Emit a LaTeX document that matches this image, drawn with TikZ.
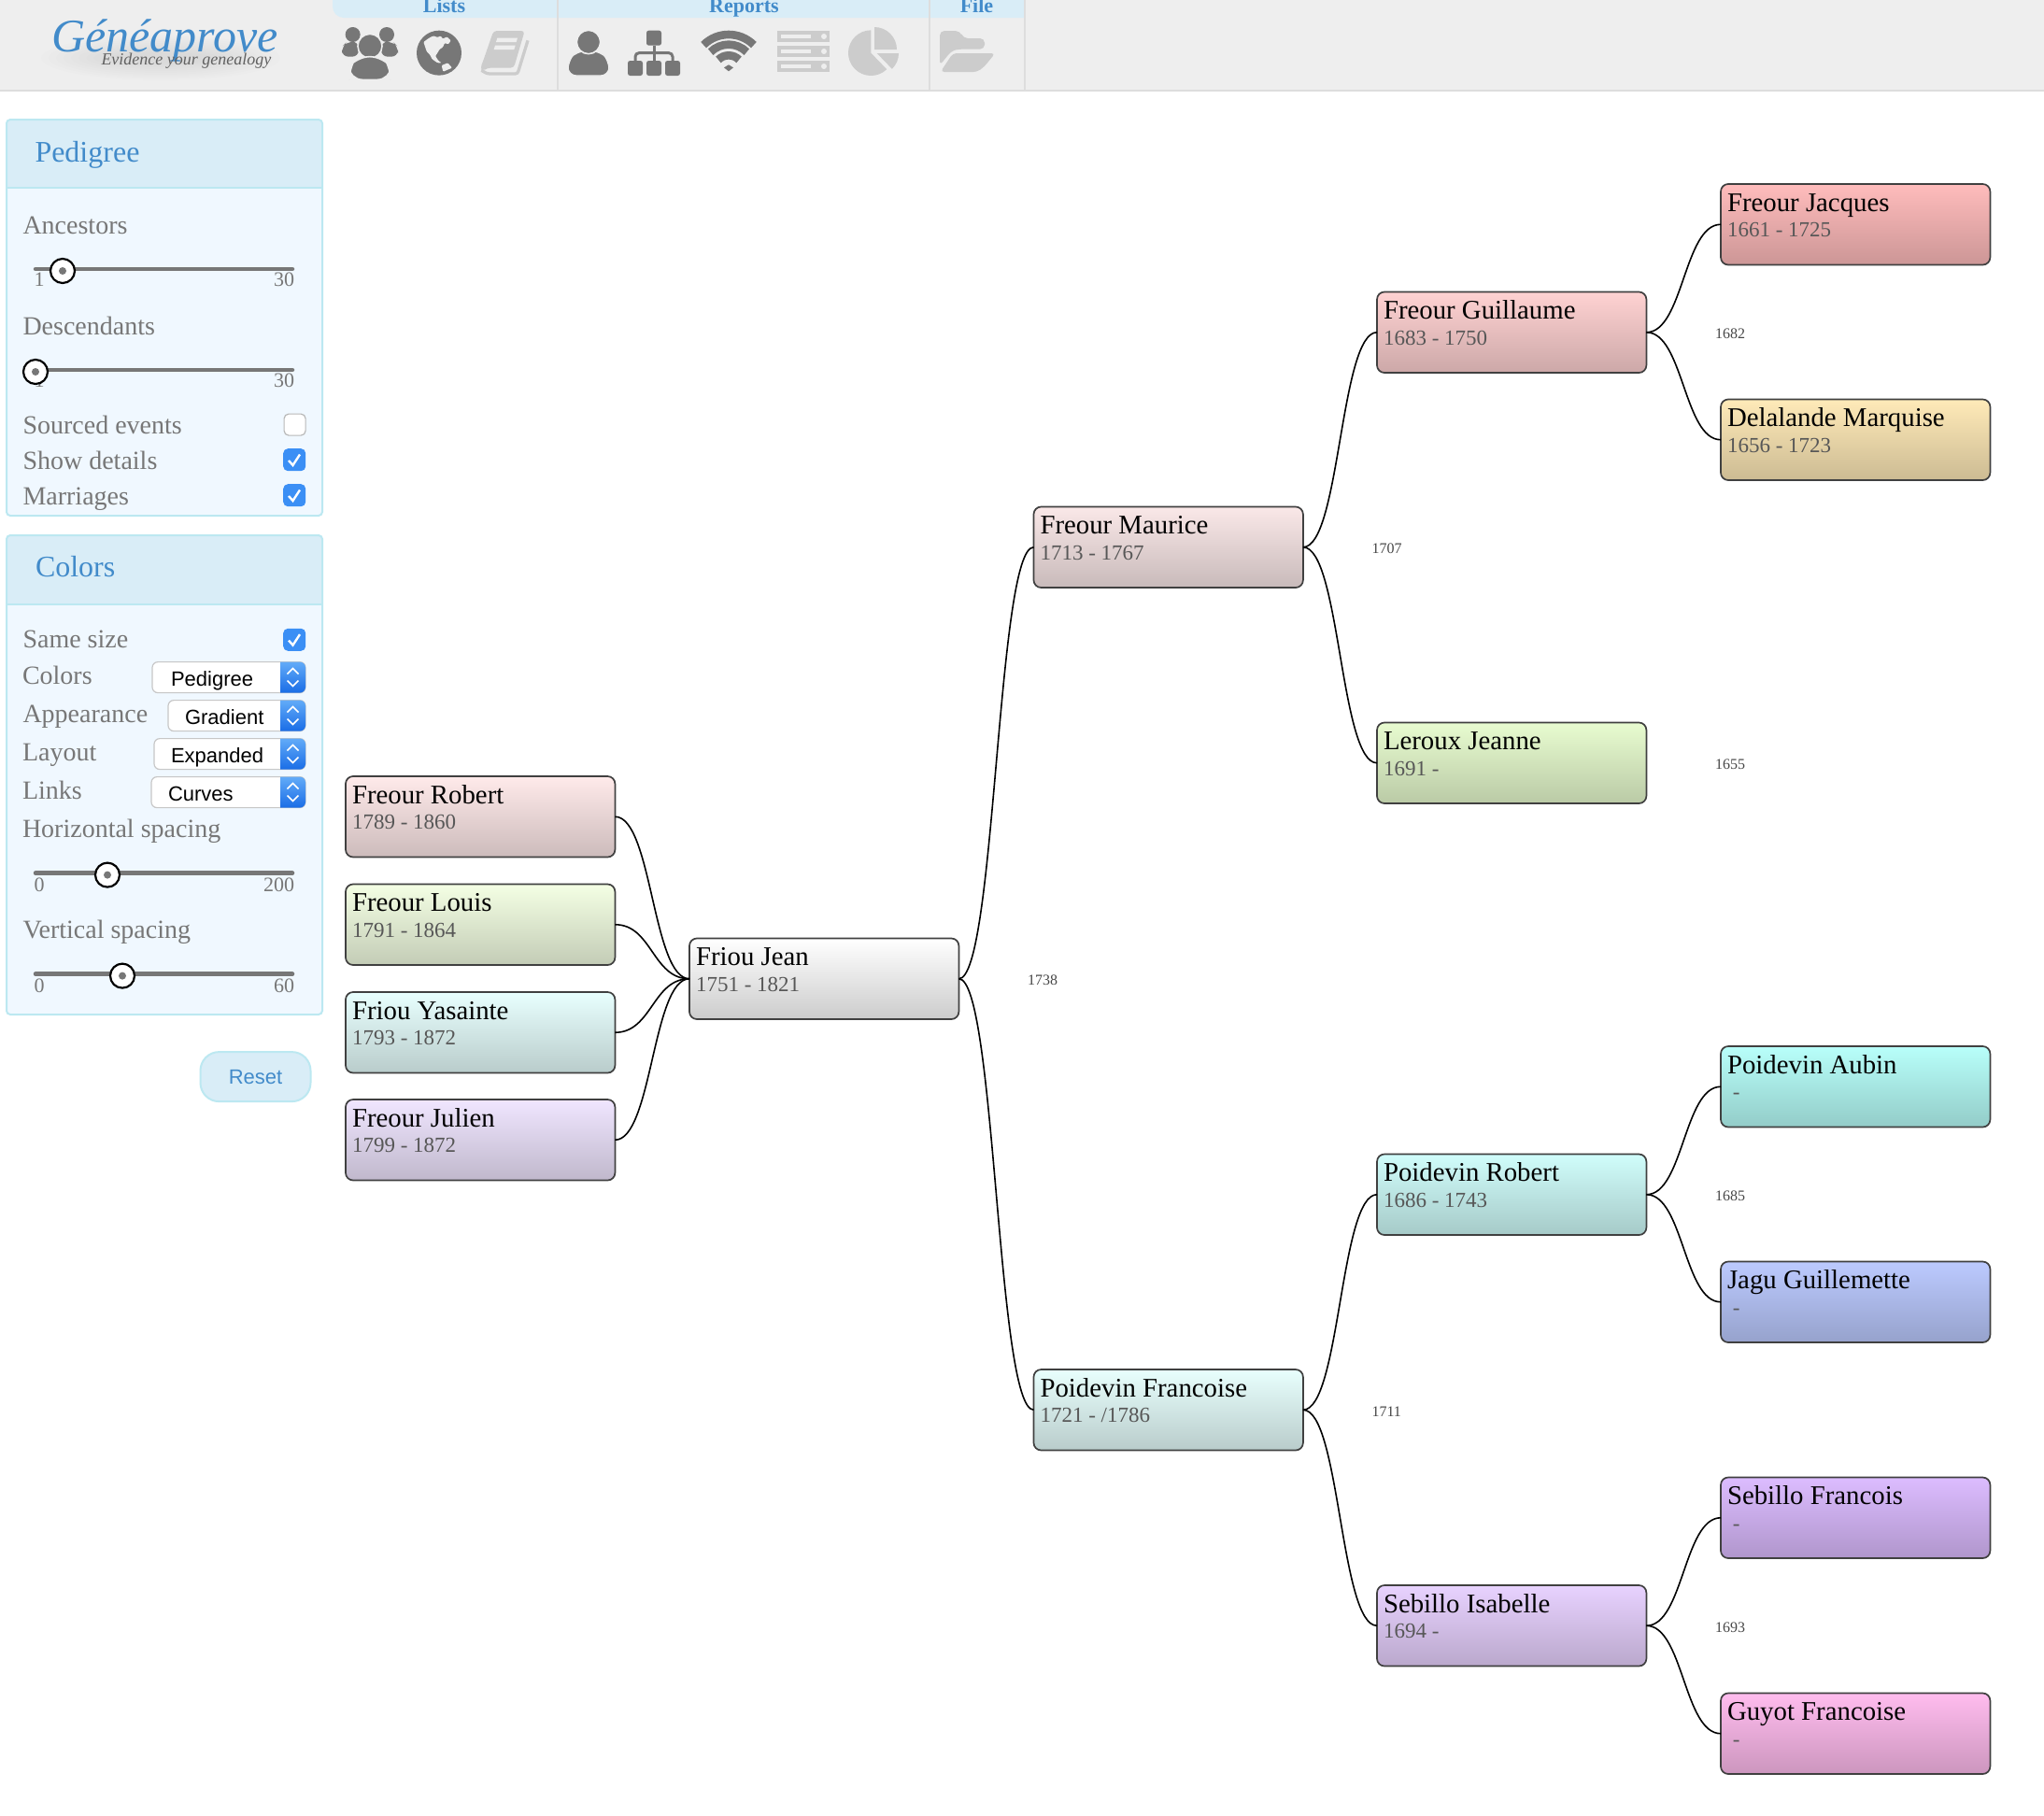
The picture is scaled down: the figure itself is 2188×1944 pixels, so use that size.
\documentclass[tikz,border=0pt]{standalone}
\usepackage{fontspec}
\setmainfont{Liberation Serif}
\setsansfont{Liberation Sans}
\usetikzlibrary{calc}
\definecolor{barbg}{HTML}{EEEEEE}
\definecolor{barline}{HTML}{DDDDDD}
\definecolor{tabbg}{HTML}{D9EDF7}
\definecolor{panelline}{HTML}{BCE8F1}
\definecolor{panelbg}{HTML}{F0F8FF}
\definecolor{linkblue}{HTML}{428BCA}
\definecolor{txtgrey}{HTML}{777777}
\definecolor{icondark}{HTML}{777777}
\definecolor{iconlight}{HTML}{CCCCCC}
\definecolor{checkblue}{HTML}{3B8FF5}
\definecolor{selecttop}{HTML}{62ABF8}
\definecolor{selectbot}{HTML}{1A6DE6}
\newcommand{\fsz}[1]{\fontsize{#1pt}{#1pt}\selectfont}
\tikzset{
  x=1pt,y=-1pt,
  txt/.style={inner sep=0pt,outer sep=0pt,anchor=base west},
  txtr/.style={inner sep=0pt,outer sep=0pt,anchor=base east},
  personbox/.style={rectangle,draw=black!75,line width=1.7pt,rounded corners=8pt,minimum width=288.4pt,minimum height=86.5pt,inner sep=0pt,outer sep=0pt,anchor=north west},
  namelabel/.style={txt,font=\fsz{28.8},text=black},
  datelabel/.style={txt,font=\fsz{23},text=black!66},
  marrlabel/.style={txt,font=\fsz{16},text=black!72},
  link/.style={draw=black,line width=1.6pt},
  paneltitle/.style={txt,font=\fsz{32},text=linkblue},
  fieldlabel/.style={txt,font=\fsz{28},text=txtgrey},
  ticklabel/.style={font=\fsz{22},text=txtgrey},
  tablabel/.style={inner sep=0pt,outer sep=0pt,anchor=base,font=\bfseries\fsz{22},text=linkblue},
  selecttext/.style={txt,font=\sffamily\fsz{22},text=black},
  sliderline/.style={draw=txtgrey,line width=4.5pt,line cap=round},
  knob/.style={circle,draw=black,fill=white,line width=2.2pt,minimum size=26pt,inner sep=0pt},
  panelframe/.style={draw=panelline,line width=2pt,rounded corners=4pt},
}
\newcommand{\person}[7]{%
  \definecolor{#1t}{HTML}{#4}\definecolor{#1b}{HTML}{#5}%
  \node[personbox,top color=#1t,bottom color=#1b] (#1) at (#2,#3) {};
  \node[namelabel] (#1name) at ($(#1.north west)+(7,29)$) {#6};
  \node[datelabel] (#1date) at ($(#1.north west)+(7,56.5)$) {#7};
}
\newcommand{\family}[2]{\draw[link] (#1.east) .. controls ($(#1.east)+(39.5,0)$) and ($(#2.west)-(39.5,0)$) .. (#2.west);}
\newcommand{\marriage}[3]{\node[marrlabel] (#1) at ($(#2.east)+(73.6,7)$) {#3};}
\newcommand{\slider}[6]{%
  \node[ticklabel,txt] (#1min) at (36.5,#2+#6) {#4};
  \node[ticklabel,txtr] (#1max) at (315,#2+#6) {#5};
  \coordinate (#1a) at (38,#2); \coordinate (#1b) at (313,#2);
  \draw[sliderline] (#1a) -- (#1b);
  \node[knob] (#1knob) at (#3,#2+2) {};
  \fill[txtgrey] (#1knob.center) circle (4);
}
\newcommand{\cbon}[2]{%
  \node[rectangle,fill=checkblue,rounded corners=5pt,minimum size=24pt,inner sep=0pt,anchor=north west] (#1) at (303,#2) {};
  \draw[white,line width=2.4pt] ($(#1.north west)+(6,13)$) -- ($(#1.north west)+(10.5,18)$) -- ($(#1.north west)+(18,6.5)$);
}
\newcommand{\cboff}[2]{%
  \node[rectangle,fill=white,draw=black!28,line width=1.2pt,rounded corners=5pt,minimum size=23pt,inner sep=0pt,anchor=north west] (#1) at (303.5,#2.5) {};
}
\newcommand{\selectbox}[5]{%
  \path[draw=black!22,fill=white,line width=1.2pt,rounded corners=6pt] (#2,#3) rectangle (327,#3+33);
  \shade[top color=selecttop,bottom color=selectbot] (300,#3) [rounded corners=6pt] -- (327,#3) -- (327,#3+33) [sharp corners] -- (300,#3+33) -- cycle;
  \draw[white,line width=1.6pt] (307.5,#3+13) -- (313.5,#3+7) -- (319.5,#3+13);
  \draw[white,line width=1.6pt] (307.5,#3+20) -- (313.5,#3+26) -- (319.5,#3+20);
  \node[selecttext] (#1) at (#4,#3+26) {#5};
}
\begin{document}
\begin{tikzpicture}
\useasboundingbox (0,0) rectangle (2188,1944);
\fill[white] (0,0) rectangle (2188,1944);

%%% top bar
\fill[barbg] (0,0) rectangle (2188,96);
\fill[barline] (0,96) rectangle (2188,98);
\fill[tabbg] (356,-10) [rounded corners=12pt] -- (356,19) [sharp corners] -- (1097,19) -- (1097,-10) -- cycle;
\foreach \dx in {597,995,1097} \draw[barline,line width=1.6pt] (\dx,0) -- (\dx,96);
\node[tablabel] (tablists) at (475.5,13) {Lists};
\node[tablabel] (tabreports) at (796.5,13) {Reports};
\node[tablabel] (tabfile) at (1045.5,13) {File};

% logo shadow
\foreach \k in {0,...,9}
  \fill[black,opacity=0.006] (172,62) ellipse ({128-8*\k} and {24-2*\k});
\node[txt,font=\itshape\fsz{50},text=linkblue] (logo) at (55,55) {Généaprove};
\node[txt,font=\itshape\fsz{18},text=black!62] (tagline) at (108.5,69.5) {Evidence your genealogy};

% icons group 1
\begin{scope}[shift={(340,10)},x=0.33333pt,y=-0.33333pt]
  % people
  \fill[icondark,rounded corners=7pt] (78,152) -- (78,120) -- (95,104) -- (132,104) -- (132,152) -- cycle;
  \fill[icondark,rounded corners=7pt] (258,152) -- (258,120) -- (241,104) -- (204,104) -- (204,152) -- cycle;
  \fill[icondark] (113,81) circle (24);
  \fill[icondark] (222,81) circle (24);
  \filldraw[icondark,draw=barbg,line width=1.6pt] (168,118) circle (39);
  \filldraw[icondark,draw=barbg,line width=1.6pt,rounded corners=14pt] (102,226) -- (100,185) -- (125,152) -- (210,152) -- (236,185) -- (234,226) -- cycle;
  % globe
  \fill[icondark] (390,140) circle (72);
  \fill[barbg,rounded corners=1pt] (340,105) -- (358,92) -- (372,85) -- (385,90) -- (395,85) -- (402,95) -- (415,88) -- (428,100) -- (420,112) -- (408,108) -- (402,122) -- (392,128) -- (385,140) -- (378,150) -- (388,165) -- (398,172) -- (385,172) -- (368,160) -- (360,145) -- (350,135) -- (345,120) -- cycle;
  \fill[barbg,rounded corners=1pt] (398,180) -- (418,172) -- (432,188) -- (403,200) -- cycle;
  % book
  \fill[iconlight,rounded corners=3.5pt] (565,69) -- (665,69) -- (630,188) -- (545,188) -- (532,198) -- (522,190) -- (530,170) -- cycle;
  \draw[iconlight,line width=3.3pt,rounded corners=2.5pt] (675,100) -- (642,207) -- (545,207) -- (526,196);
  \fill[barbg] (577,92) -- (642,92) -- (638,105) -- (573,105) -- cycle;
  \fill[barbg] (570,116) -- (635,116) -- (631,129) -- (566,129) -- cycle;
\end{scope}

% icons group 2
\begin{scope}[shift={(590,10)},x=0.33333pt,y=-0.33333pt]
  % user
  \filldraw[icondark,draw=barbg,line width=1.2pt,rounded corners=9pt] (54,213) -- (54,165) -- (82,134) -- (158,134) -- (186,165) -- (186,213) -- cycle;
  \filldraw[icondark,draw=barbg,line width=1.6pt] (120,105) circle (38);
  % sitemap
  \fill[icondark,rounded corners=2.5pt] (306,68) rectangle (354,116);
  \fill[icondark,rounded corners=2.5pt] (246,165) rectangle (294,213);
  \fill[icondark,rounded corners=2.5pt] (306,165) rectangle (354,213);
  \fill[icondark,rounded corners=2.5pt] (366,165) rectangle (414,213);
  \draw[icondark,line width=3pt] (330,116) -- (330,165);
  \draw[icondark,line width=3pt,rounded corners=4pt] (270,165) -- (270,140) -- (390,140) -- (390,165);
  % wifi
  \draw[icondark,line width=8.6pt] (570,195) ++(225:114) arc (225:315:114);
  \draw[icondark,line width=8.6pt] (570,195) ++(225:82) arc (225:315:82);
  \draw[icondark,line width=8.6pt] (570,195) ++(225:47) arc (225:315:47);
  \fill[icondark] (555,187) -- (570,178) -- (585,187) -- (570,199) -- cycle;
  % server
  \foreach \sy in {69,117,165} {
    \fill[iconlight] (726,\sy) rectangle (894,\sy+36);
    \fill[barbg] (738,\sy+12) rectangle (834,\sy+24);
    \fill[barbg] (876,\sy+18) circle (9);
  }
\end{scope}

% icons group 3
\begin{scope}[shift={(880,10)},x=0.33333pt,y=-0.33333pt]
  % pie
  \fill[iconlight] (157,140) -- ++(46:73) arc (46:270:73) -- cycle;
  \fill[iconlight] (168,129) -- ++(270:72) arc (270:360:72) -- cycle;
  \fill[iconlight] (176,141) -- ++(0:70) arc (0:46:70) -- cycle;
  % folder
  \fill[iconlight,rounded corners=5pt] (378,180) -- (378,69) -- (443,69) -- (453,93) -- (522,93) -- (522,128) -- (436,128) -- (415,134) -- cycle;
  \fill[iconlight,rounded corners=4pt] (420,141) -- (556,141) -- (520,185) -- (498,201) -- (380,201) -- cycle;
\end{scope}

%%% Pedigree panel
\path[fill=panelbg,rounded corners=4pt] (7,128) rectangle (345,552);
\fill[tabbg,rounded corners=4pt] (7,128) rectangle (345,201);
\draw[panelline,line width=1.6pt] (7,201) -- (345,201);
\draw[panelframe] (7,128) rectangle (345,552);
\node[paneltitle] (titlepedigree) at (37.5,173) {Pedigree};
\node[fieldlabel] (lancestors) at (24.5,250) {Ancestors};
\slider{sa}{288}{67}{1}{30}{18.5}
\node[fieldlabel] (ldescendants) at (24.5,358) {Descendants};
\slider{sd}{396}{38}{1}{30}{18.5}
\node[fieldlabel] (lsourced) at (24.5,464.6) {Sourced events};
\node[fieldlabel] (lshow) at (24.5,502.6) {Show details};
\node[fieldlabel] (lmarriages) at (24.5,540) {Marriages};
\cboff{cbsourced}{442}
\cbon{cbshow}{480}
\cbon{cbmarr}{518}

%%% Colors panel
\path[fill=panelbg,rounded corners=4pt] (7,573) rectangle (345,1086);
\fill[tabbg,rounded corners=4pt] (7,573) rectangle (345,647);
\draw[panelline,line width=1.6pt] (7,647) -- (345,647);
\draw[panelframe] (7,573) rectangle (345,1086);
\begin{scope}[shift={(0,-1.4)}]
\node[paneltitle] (titlecolors) at (38,619) {Colors};
\node[fieldlabel] (lsame) at (24.5,695) {Same size};
\cbon{cbsame}{674}
\node[fieldlabel] (lcolors) at (24,734) {Colors};
\selectbox{scolors}{163}{710}{183}{Pedigree}
\node[fieldlabel] (lappearance) at (24.5,775) {Appearance};
\selectbox{sappearance}{180}{751}{198}{Gradient}
\node[fieldlabel] (llayout) at (24,816) {Layout};
\selectbox{slayout}{165}{792}{183}{Expanded}
\node[fieldlabel] (llinks) at (24,857) {Links};
\selectbox{slinks}{162}{833}{180}{Curves}
\node[fieldlabel] (lhoriz) at (24,897.5) {Horizontal spacing};
\slider{sh}{936}{115}{0}{200}{19.5}
\node[fieldlabel] (lvert) at (24.5,1005.5) {Vertical spacing};
\slider{sv}{1044}{131}{0}{60}{19.5}
\node[rectangle,draw=panelline,fill=tabbg,line width=2pt,rounded corners=20pt,minimum width=118pt,minimum height=53pt,inner sep=0pt,font=\sffamily\fsz{22},text=linkblue] (reset) at (273.5,1154) {Reset};
\end{scope}

%%% Tree
\person{robert}{370}{831}{FFEAEA}{CCBBBB}{Freour Robert}{1789 - 1860}
\person{louis}{370}{946.5}{F4FFE4}{C3CCB6}{Freour Louis}{1791 - 1864}
\person{yasainte}{370}{1062}{E8FFFE}{B9CCCB}{Friou Yasainte}{1793 - 1872}
\person{julien}{370}{1177}{F0E6FF}{C0B8CC}{Freour Julien}{1799 - 1872}
\person{jean}{738}{1004.5}{FFFFFF}{CCCCCC}{Friou Jean}{1751 - 1821}
\person{maurice}{1106.5}{542.5}{FAE8E8}{C8BABA}{Freour Maurice}{1713 - 1767}
\person{francoise}{1106.5}{1466}{E8FFFD}{B9CCCB}{Poidevin Francoise}{1721 - /1786}
\person{guillaume}{1474}{312.5}{FFD2D2}{CCA8A8}{Freour Guillaume}{1683 - 1750}
\person{jeanne}{1474}{773.5}{E8FCD0}{BACAA6}{Leroux Jeanne}{1691 -}
\person{probert}{1474}{1235.5}{D0FDFB}{A6CAC8}{Poidevin Robert}{1686 - 1743}
\person{isabelle}{1474}{1697}{E8D2FF}{BAA8CC}{Sebillo Isabelle}{1694 -}
\person{jacques}{1842}{197}{FFBCBC}{CC9696}{Freour Jacques}{1661 - 1725}
\person{marquise}{1842}{427.5}{FFEAB8}{CCBB93}{Delalande Marquise}{1656 - 1723}
\person{aubin}{1842}{1120}{B8FFFA}{93CCC8}{Poidevin Aubin}{\hspace*{5.75pt}-}
\person{jagu}{1842}{1350.5}{BCCAFF}{96A2CC}{Jagu Guillemette}{\hspace*{5.75pt}-}
\person{sfrancois}{1842}{1581.5}{DCBCFF}{B096CC}{Sebillo Francois}{\hspace*{5.75pt}-}
\person{guyot}{1842}{1812.5}{FFBCEE}{CC96BE}{Guyot Francoise}{\hspace*{5.75pt}-}

\family{robert}{jean}
\family{louis}{jean}
\family{yasainte}{jean}
\family{julien}{jean}
\family{jean}{maurice}
\family{jean}{francoise}
\family{maurice}{guillaume}
\family{maurice}{jeanne}
\family{francoise}{probert}
\family{francoise}{isabelle}
\family{guillaume}{jacques}
\family{guillaume}{marquise}
\family{probert}{aubin}
\family{probert}{jagu}
\family{isabelle}{sfrancois}
\family{isabelle}{guyot}

\marriage{m1738}{jean}{1738}
\marriage{m1707}{maurice}{1707}
\marriage{m1711}{francoise}{1711}
\marriage{m1682}{guillaume}{1682}
\marriage{m1655}{jeanne}{1655}
\marriage{m1685}{probert}{1685}
\marriage{m1693}{isabelle}{1693}
\end{tikzpicture}
\end{document}
